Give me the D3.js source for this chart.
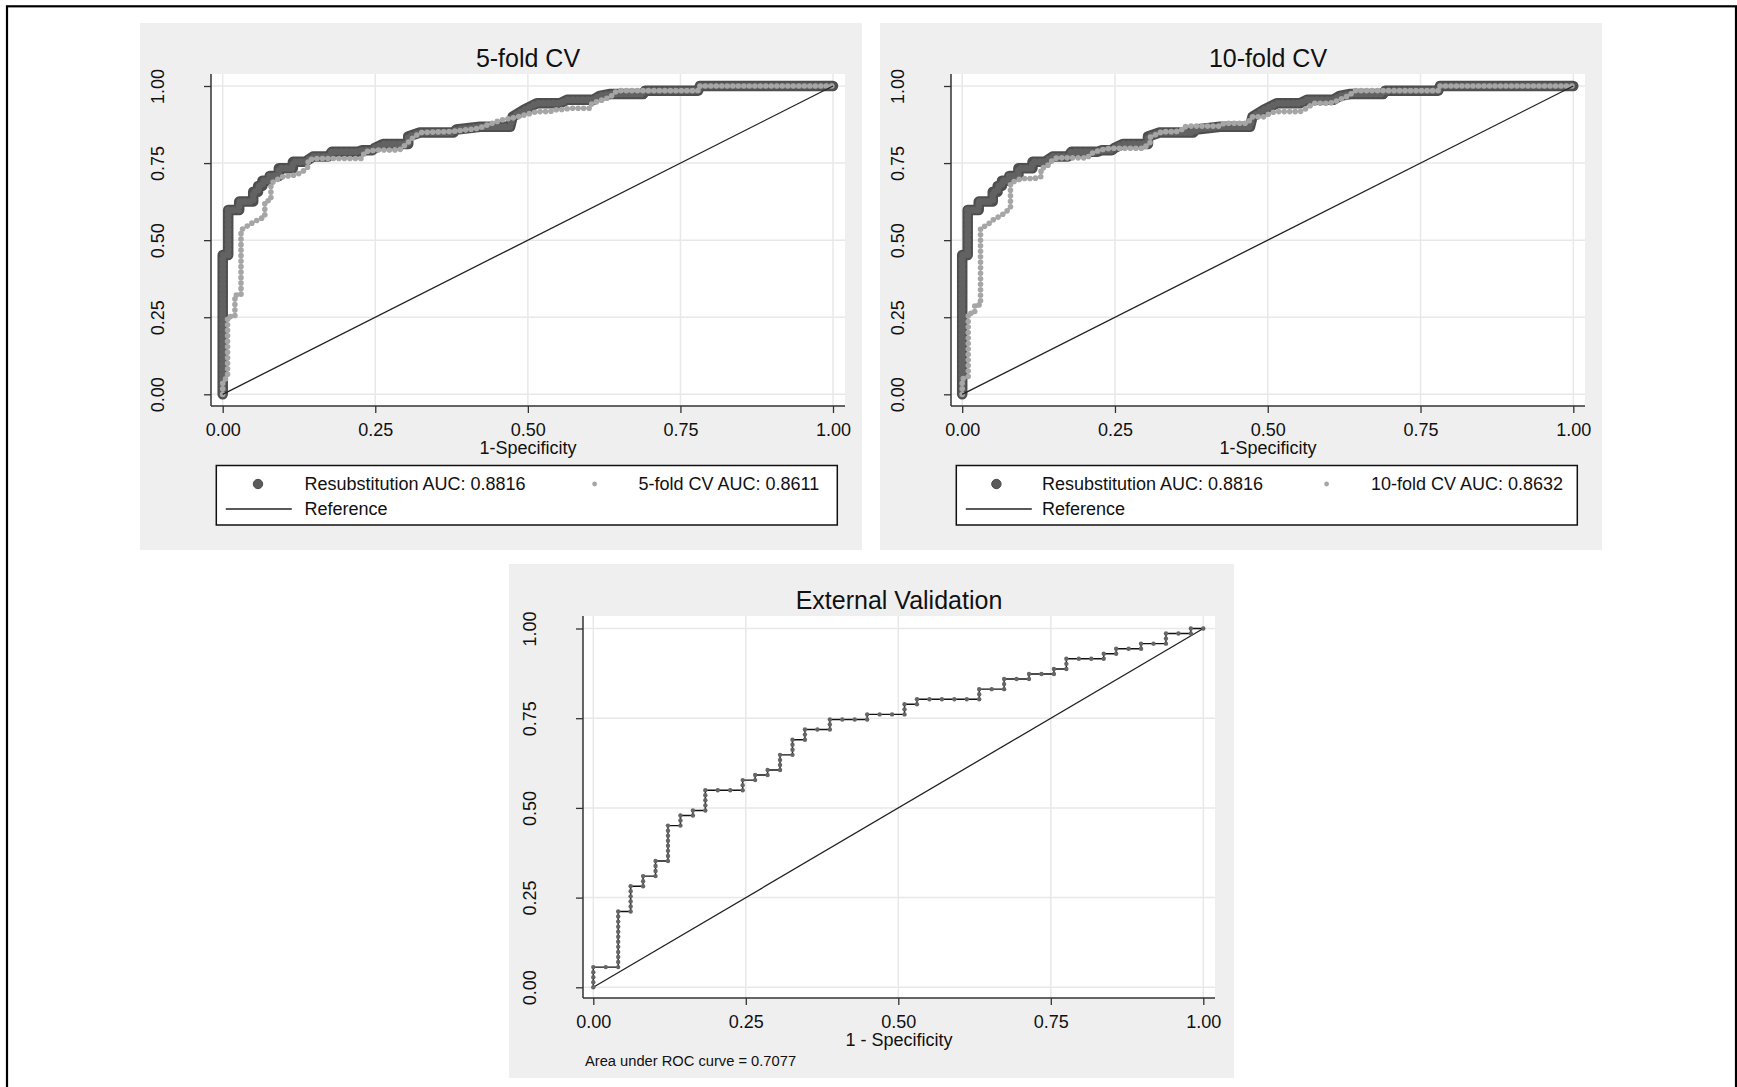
<!DOCTYPE html>
<html lang="en">
<head>
  <meta charset="UTF-8">
  <title>ROC curves</title>
  <script src="https://d3js.org/d3.v7.min.js"></script>
  <style>
    body { margin: 0; background: #fff; font-family: "Liberation Sans", Arial, sans-serif; }
    text { fill: #111; }
  </style>
</head>
<body>
  <div id="chart"></div>

  <script>
    // axis ticks shared by all three plots
    const ticks = [0, 0.25, 0.5, 0.75, 1];
    const tickLabels = ["0.00", "0.25", "0.50", "0.75", "1.00"];

    // resubstitution ROC (same in both CV panels): [1-specificity, sensitivity]
    const resubCurve = [
      [0, 0], [0, 0.452], [0.009, 0.452], [0.009, 0.598], [0.027, 0.598], [0.027, 0.625],
      [0.05, 0.625], [0.05, 0.657], [0.058, 0.657], [0.058, 0.676], [0.065, 0.676], [0.065, 0.693],
      [0.077, 0.693], [0.077, 0.708], [0.092, 0.708], [0.092, 0.733], [0.115, 0.733], [0.115, 0.754],
      [0.135, 0.754], [0.148, 0.771], [0.173, 0.771], [0.179, 0.787], [0.222, 0.787], [0.229, 0.792],
      [0.245, 0.792], [0.25, 0.80], [0.263, 0.812], [0.304, 0.812], [0.304, 0.836], [0.323, 0.849],
      [0.378, 0.849], [0.383, 0.859], [0.422, 0.868], [0.471, 0.868], [0.475, 0.900], [0.493, 0.922],
      [0.515, 0.944], [0.553, 0.944], [0.564, 0.955], [0.607, 0.955], [0.618, 0.968], [0.635, 0.974],
      [0.689, 0.974], [0.692, 0.985], [0.779, 0.985], [0.782, 1], [1, 1]
    ];

    const cv5Curve = [
      [0, 0], [0, 0.04], [0.008, 0.057], [0.008, 0.252], [0.02, 0.252], [0.02, 0.322], [0.03, 0.322],
      [0.03, 0.533], [0.039, 0.544], [0.05, 0.558], [0.06, 0.568], [0.069, 0.576], [0.069, 0.625],
      [0.079, 0.63], [0.079, 0.684], [0.088, 0.695], [0.099, 0.706], [0.118, 0.711], [0.129, 0.719],
      [0.14, 0.738], [0.14, 0.76], [0.151, 0.765], [0.228, 0.765], [0.233, 0.787], [0.25, 0.792],
      [0.29, 0.793], [0.30, 0.81], [0.315, 0.838], [0.326, 0.849], [0.378, 0.853], [0.42, 0.863],
      [0.438, 0.877], [0.457, 0.89], [0.48, 0.898], [0.5035, 0.911], [0.515, 0.917], [0.536, 0.917],
      [0.548, 0.924], [0.558, 0.924], [0.569, 0.928], [0.602, 0.928], [0.605, 0.944], [0.618, 0.952],
      [0.635, 0.964], [0.643, 0.98], [0.651, 0.985], [0.78, 0.985], [0.782, 1], [1, 1]
    ];

    const cv10Curve = [
      [0, 0], [0, 0.05], [0.0098, 0.057], [0.0098, 0.263], [0.0205, 0.263], [0.0205, 0.29], [0.03, 0.29],
      [0.03, 0.538], [0.041, 0.549], [0.05, 0.565], [0.06, 0.576], [0.069, 0.587], [0.079, 0.605],
      [0.079, 0.684], [0.089, 0.695], [0.099, 0.70], [0.118, 0.70], [0.129, 0.706], [0.129, 0.733],
      [0.138, 0.738], [0.148, 0.76], [0.155, 0.767], [0.205, 0.767], [0.21, 0.78], [0.225, 0.792],
      [0.242, 0.798], [0.297, 0.798], [0.308, 0.818], [0.308, 0.834], [0.327, 0.852], [0.35, 0.852],
      [0.365, 0.863], [0.365, 0.868], [0.373, 0.87], [0.422, 0.87], [0.428, 0.879], [0.467, 0.879],
      [0.474, 0.90], [0.495, 0.90], [0.504, 0.913], [0.515, 0.917], [0.553, 0.917], [0.564, 0.928],
      [0.575, 0.944], [0.602, 0.944], [0.613, 0.952], [0.632, 0.968], [0.643, 0.985], [0.78, 0.985],
      [0.782, 1], [1, 1]
    ];

    // external validation: cumulative false / true positives at each cutoff (49 neg, 71 pos)
    const extNeg = 49, extPos = 71;
    const extFP = [
      0, 0, 0, 0, 0, 1, 2, 2, 2, 2, 2, 2, 2, 2, 2, 2, 2, 2, 3, 3, 3, 3, 3, 3, 4, 4, 4, 5, 5, 5, 5,
      6, 6, 6, 6, 6, 6, 6, 6, 7, 7, 7, 8, 8, 9, 9, 9, 9, 9, 10, 11, 12, 12, 12, 13, 13, 14, 14,
      15, 15, 15, 15, 16, 16, 16, 16, 17, 17, 17, 18, 19, 19, 19, 20, 21, 22, 22, 23, 24, 25, 25, 25,
      26, 26, 27, 28, 29, 30, 31, 31, 31, 32, 33, 33, 33, 34, 35, 35, 36, 37, 37, 38, 38, 38,
      39, 40, 41, 41, 42, 42, 43, 44, 44, 45, 46, 46, 46, 47, 48, 48, 49
    ];
    const extTP = [
      0, 1, 2, 3, 4, 4, 4, 5, 6, 7, 8, 9, 10, 11, 12, 13, 14, 15, 15, 16, 17, 18, 19, 20, 20, 21, 22, 22, 23, 24, 25,
      25, 26, 27, 28, 29, 30, 31, 32, 32, 33, 34, 34, 35, 35, 36, 37, 38, 39, 39, 39, 39, 40, 41, 41, 42, 42, 43,
      43, 44, 45, 46, 46, 47, 48, 49, 49, 50, 51, 51, 51, 52, 53, 53, 53, 53, 54, 54, 54, 54, 55, 56,
      56, 57, 57, 57, 57, 57, 57, 58, 59, 59, 59, 60, 61, 61, 61, 62, 62, 62, 63, 63, 64, 65,
      65, 65, 65, 66, 66, 67, 67, 67, 68, 68, 68, 69, 70, 70, 70, 71, 71
    ];

    const titles = ["5-fold CV", "10-fold CV", "External Validation"];
    const xTitles = ["1-Specificity", "1-Specificity", "1 - Specificity"];
    const resubLabel = "Resubstitution AUC: 0.8816";
    const cvLabels = ["5-fold CV AUC: 0.8611", "10-fold CV AUC: 0.8632"];
    const refLabel = "Reference";
    const extNote = "Area under ROC curve = 0.7077";

    const W = 1737, H = 1087;
    const darkCol = "#5b5b5b", lightCol = "#a6a6a6", gridCol = "#e8e8e8", bgCol = "#efefef";

    const svg = d3.select("#chart").append("svg")
      .attr("width", W).attr("height", H);

    svg.append("rect").attr("width", W).attr("height", H).attr("fill", "#fff");

    const panels = [
      { bg: [140, 23, 722, 527], box: [211, 845, 74, 406], xr: [222.7, 833], yr: [394.3, 86] },
      { bg: [880, 23, 722, 527], box: [951, 1585, 74, 406], xr: [962.2, 1573.3], yr: [394.3, 86] },
      { bg: [509, 564, 725, 514], box: [583, 1215, 616, 998], xr: [593.3, 1203.3], yr: [987.3, 628.5] }
    ];

    function drawFrame(p, i) {
      const g = svg.append("g");
      g.append("rect").attr("x", p.bg[0]).attr("y", p.bg[1])
        .attr("width", p.bg[2]).attr("height", p.bg[3]).attr("fill", bgCol);

      const [l, r, t, b] = p.box;
      g.append("rect").attr("x", l).attr("y", t).attr("width", r - l).attr("height", b - t).attr("fill", "#fff");

      const x = d3.scaleLinear().domain([0, 1]).range(p.xr);
      const y = d3.scaleLinear().domain([0, 1]).range(p.yr);

      // grid
      g.selectAll(".gx").data(ticks).enter().append("line")
        .attr("x1", d => x(d)).attr("x2", d => x(d)).attr("y1", t).attr("y2", b)
        .attr("stroke", gridCol).attr("stroke-width", 1.5);
      g.selectAll(".gy").data(ticks).enter().append("line")
        .attr("y1", d => y(d)).attr("y2", d => y(d)).attr("x1", l).attr("x2", r)
        .attr("stroke", gridCol).attr("stroke-width", 1.5);

      // axes
      const ax = g.append("g").attr("transform", `translate(0,${b})`)
        .call(d3.axisBottom(x).tickValues(ticks).tickFormat((d, k) => tickLabels[k])
          .tickSize(7).tickSizeOuter(0).tickPadding(10.5));
      ax.select(".domain").remove();
      ax.selectAll("text").style("font-size", "18px").attr("fill", "#111")
        .style("font-family", '"Liberation Sans", Arial, sans-serif');
      ax.selectAll("line").attr("stroke", "#333").attr("stroke-width", 1.3);

      const ay = g.append("g").attr("transform", `translate(${l},0)`)
        .call(d3.axisLeft(y).tickValues(ticks).tickFormat((d, k) => tickLabels[k])
          .tickSize(7).tickSizeOuter(0));
      ay.select(".domain").remove();
      ay.selectAll("line").attr("stroke", "#333").attr("stroke-width", 1.3);
      ay.selectAll("text")
        .attr("transform", "rotate(-90)")
        .attr("x", 0).attr("y", -47).attr("dy", null)
        .attr("text-anchor", "middle").attr("fill", "#111")
        .style("font-size", "18px")
        .style("font-family", '"Liberation Sans", Arial, sans-serif');

      g.append("line").attr("x1", l).attr("x2", l).attr("y1", t).attr("y2", b)
        .attr("stroke", "#333").attr("stroke-width", 1.5);
      g.append("line").attr("x1", l).attr("x2", r).attr("y1", b).attr("y2", b)
        .attr("stroke", "#333").attr("stroke-width", 1.5);

      // titles
      g.append("text").attr("x", (l + r) / 2).attr("y", t - 7.5)
        .attr("text-anchor", "middle").style("font-size", "25px").text(titles[i]);
      g.append("text").attr("x", (l + r) / 2).attr("y", b + 48)
        .attr("text-anchor", "middle").style("font-size", "18px").text(xTitles[i]);

      return { g, x, y };
    }

    const line = (x, y) => d3.line().x(d => x(d[0])).y(d => y(d[1]));

    // two cross-validation panels
    const legendPos = [
      { key2: 594.6, text2: 638.5 },
      { key2: 1326.6, text2: 1371 }
    ];

    [cv5Curve, cv10Curve].forEach((cv, i) => {
      const p = panels[i];
      const { g, x, y } = drawFrame(p, i);

      g.append("path").datum(resubCurve)
        .attr("d", line(x, y)).attr("fill", "none")
        .attr("stroke", "#4e4e4e").attr("stroke-width", 10.5)
        .attr("stroke-linejoin", "round").attr("stroke-linecap", "round");
      g.append("path").datum(resubCurve)
        .attr("d", line(x, y)).attr("fill", "none")
        .attr("stroke", "#626262").attr("stroke-width", 7)
        .attr("stroke-dasharray", "0 5")
        .attr("stroke-linejoin", "round").attr("stroke-linecap", "round");

      g.append("path").datum(cv)
        .attr("d", line(x, y)).attr("fill", "none")
        .attr("stroke", lightCol).attr("stroke-width", 5.6)
        .attr("stroke-dasharray", "0 5.5")
        .attr("stroke-linejoin", "round").attr("stroke-linecap", "round");

      g.append("line")
        .attr("x1", x(0)).attr("y1", y(0)).attr("x2", x(1)).attr("y2", y(1))
        .attr("stroke", "#222").attr("stroke-width", 1.3);

      // legend
      const off = p.bg[0] - panels[0].bg[0];
      const lx = 216.3 + off, ly = 465.5;
      g.append("rect").attr("x", lx).attr("y", ly).attr("width", 621).attr("height", 59.5)
        .attr("fill", "#fff").attr("stroke", "#111").attr("stroke-width", 1.5);
      g.append("circle").attr("cx", lx + 41.7 - (i ? 1.6 : 0)).attr("cy", 484).attr("r", 4.7)
        .attr("fill", darkCol).attr("stroke", "#4a4a4a");
      g.append("text").attr("x", lx + 88.2 - (i ? 2.5 : 0)).attr("y", 490.4)
        .style("font-size", "18px").text(resubLabel);
      g.append("circle").attr("cx", legendPos[i].key2).attr("cy", 484).attr("r", 2.4)
        .attr("fill", lightCol);
      g.append("text").attr("x", legendPos[i].text2).attr("y", 490.4)
        .style("font-size", "18px").text(cvLabels[i]);
      g.append("line").attr("x1", lx + 9.5).attr("x2", lx + 75.5).attr("y1", 509).attr("y2", 509)
        .attr("stroke", "#222").attr("stroke-width", 1.3);
      g.append("text").attr("x", lx + 88.2 - (i ? 2.5 : 0)).attr("y", 515.4)
        .style("font-size", "18px").text(refLabel);
    });

    // external validation panel
    {
      const p = panels[2];
      const { g, x, y } = drawFrame(p, 2);
      const pts = extFP.map((fp, k) => [fp / extNeg, extTP[k] / extPos]);

      g.append("line")
        .attr("x1", x(0)).attr("y1", y(0)).attr("x2", x(1)).attr("y2", y(1))
        .attr("stroke", "#222").attr("stroke-width", 1.3);

      g.append("path").datum(pts)
        .attr("d", line(x, y)).attr("fill", "none")
        .attr("stroke", "#111").attr("stroke-width", 1.4);

      g.selectAll(".pt").data(pts).enter().append("circle")
        .attr("cx", d => x(d[0])).attr("cy", d => y(d[1])).attr("r", 2.2)
        .attr("fill", "#666");

      g.append("text").attr("x", 585).attr("y", 1066)
        .style("font-size", "14.7px").text(extNote);
    }

    // outer frame
    svg.append("rect").attr("x", 7).attr("y", 6.3).attr("width", 1729).attr("height", 1200)
      .attr("fill", "none").attr("stroke", "#000").attr("stroke-width", 2.2);
  </script>
</body>
</html>
